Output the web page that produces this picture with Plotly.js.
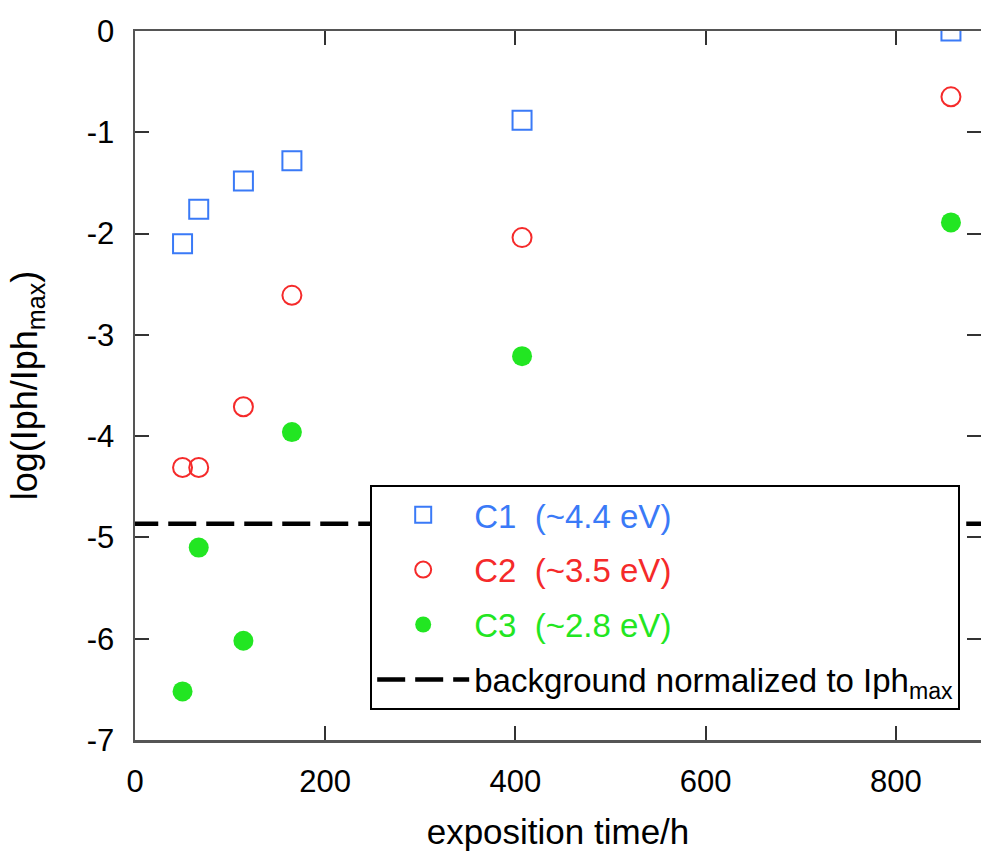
<!DOCTYPE html>
<html>
<head>
<meta charset="utf-8">
<script src="https://cdn.plot.ly/plotly-3.0.1.min.js"></script>
<style>html,body{margin:0;padding:0;background:#fff;}#chart{width:981px;height:853px;}</style>
</head>
<body>
<div id="chart"></div>
<script>
// exposition time (h)
const timeH = [50, 67, 114, 165, 407, 858];
// log(Iph/Iph_max) per component
const c1Values = [-2.10, -1.76, -1.48, -1.28, -0.88, 0.00];
const c2Values = [-4.31, -4.31, -3.71, -2.61, -2.04, -0.65];
const c3Values = [-6.52, -5.10, -6.02, -3.96, -3.21, -1.89];
// background normalized to Iph_max
const bgX = [-5, 900];
const bgY = [-4.865, -4.865];

const seriesNames = ['C1  (~4.4 eV)', 'C2  (~3.5 eV)', 'C3  (~2.8 eV)'];
const xTicks = [0, 200, 400, 600, 800];
const yTicks = [0, -1, -2, -3, -4, -5, -6, -7];

const blue = '#3a7af7', red = '#f52a2a', green = '#22e622';
const FONT = '"Liberation Sans", Arial, Helvetica, sans-serif';

const traces = [
  {x: timeH, y: c1Values, mode: 'markers', type: 'scatter', legendgroup: 'a',
   name: '<span style="color:' + blue + '">' + seriesNames[0] + '</span>',
   marker: {symbol: 'square-open', size: 19, color: blue, line: {width: 2, color: blue}}},
  {x: timeH, y: c2Values, mode: 'markers', type: 'scatter', legendgroup: 'b',
   name: '<span style="color:' + red + '">' + seriesNames[1] + '</span>',
   marker: {symbol: 'circle-open', size: 19, color: red, line: {width: 2, color: red}}},
  {x: timeH, y: c3Values, mode: 'markers', type: 'scatter', legendgroup: 'c',
   name: '<span style="color:' + green + '">' + seriesNames[2] + '</span>',
   marker: {symbol: 'circle', size: 20, color: green}},
  {x: bgX, y: bgY, mode: 'lines', type: 'scatter', legendgroup: 'd', cliponaxis: false,
   name: 'background normalized to Iph<sub>max</sub>',
   line: {color: '#000', width: 4.5, dash: '28px,10px'}}
];

const axisCommon = {
  showgrid: false, zeroline: false, showline: true, mirror: 'ticks',
  linecolor: '#555', linewidth: 2.5, ticks: 'inside', ticklen: 14, tickwidth: 2,
  tickcolor: '#333', tickfont: {family: FONT, size: 31, color: '#000'}
};

const layout = {
  width: 981, height: 853,
  margin: {l: 135, r: 0, t: 31, b: 113},
  paper_bgcolor: '#fff', plot_bgcolor: '#fff',
  font: {family: FONT, color: '#000'},
  showlegend: true,
  legend: {
    x: 0.278, y: 0.36, xanchor: 'left', yanchor: 'top',
    bgcolor: '#fff', bordercolor: '#000', borderwidth: 2,
    font: {family: FONT, size: 33, color: '#000'},
    tracegroupgap: 9, itemwidth: 92, traceorder: 'grouped'
  },
  xaxis: Object.assign({}, axisCommon, {
    range: [0, 889.6], tickvals: xTicks, ticktext: xTicks.map(String),
    ticklabelstandoff: 12,
    title: {text: 'exposition time/h', font: {family: FONT, size: 35, color: '#000'}, standoff: 22}
  }),
  yaxis: Object.assign({}, axisCommon, {
    range: [-7, 0], tickvals: yTicks, ticktext: yTicks.map(String),
    ticklabelstandoff: 12,
    title: {text: 'log(Iph/Iph<sub>max</sub>)', font: {family: FONT, size: 36, color: '#000'}, standoff: 38}
  })
};

Plotly.newPlot('chart', traces, layout, {displayModeBar: false, staticPlot: true});
</script>
</body>
</html>
